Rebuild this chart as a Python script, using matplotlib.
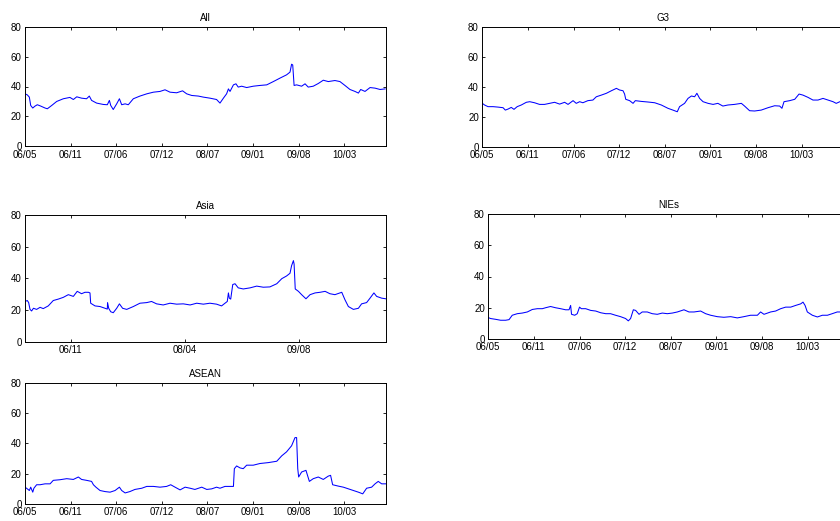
import matplotlib
matplotlib.use("Agg")
import matplotlib.pyplot as plt

plt.rcParams['font.family'] = ['Liberation Sans', 'DejaVu Sans']

# Day offsets from 2006-05-03 and index levels for each regional series
all_days = [0, 10, 19, 25, 34, 44, 54, 69, 88, 98, 117, 139, 168, 197, 212, 227, 248, 270, 282, 292,
            314, 343, 361, 370, 376, 387, 402, 414, 424, 439, 453, 475, 504, 534, 563, 592, 614, 636,
            665, 691, 709, 731, 760, 782, 811, 840, 855, 870, 884, 892, 899, 914, 925, 935, 950, 972,
            1001, 1030, 1060, 1089, 1118, 1147, 1162, 1169, 1174, 1180, 1191, 1213, 1228, 1242, 1264,
            1286, 1308, 1330, 1359, 1381, 1403, 1425, 1447, 1462, 1472, 1491, 1513, 1535, 1557, 1579]
all_vals = [35.1, 34.4, 32.9, 27.3, 25.6, 26.9, 27.8, 26.9, 25.6, 25.1, 27.3, 30.0, 31.8, 32.7, 31.3,
            33.1, 32.2, 31.8, 33.6, 30.7, 28.9, 28.0, 27.8, 30.7, 27.3, 24.6, 28.4, 31.8, 27.8, 28.4,
            27.8, 31.8, 33.6, 35.1, 36.2, 36.7, 37.8, 36.2, 35.8, 37.1, 35.1, 34.0, 33.6, 32.9, 32.2,
            31.3, 28.9, 32.2, 35.1, 38.4, 36.7, 41.1, 41.8, 39.6, 40.2, 39.3, 40.2, 40.7, 41.1, 43.3,
            45.6, 47.8, 49.6, 54.9, 54.4, 40.7, 41.1, 40.2, 41.8, 39.6, 40.2, 42.0, 44.2, 43.3, 44.0,
            43.3, 40.7, 38.0, 36.7, 35.6, 38.0, 36.7, 39.3, 38.9, 38.0, 38.4]

g3_days = [0, 10, 25, 47, 69, 91, 101, 113, 127, 139, 153, 171, 193, 208, 229, 251, 273, 295, 317,
           339, 361, 376, 398, 412, 427, 441, 463, 485, 500, 522, 544, 566, 588, 602, 617, 624, 629,
           646, 661, 671, 697, 726, 756, 785, 814, 836, 855, 865, 887, 902, 917, 931, 941, 953, 968,
           990, 1012, 1033, 1055, 1077, 1106, 1136, 1150, 1172, 1194, 1223, 1253, 1282, 1304, 1314,
           1323, 1348, 1370, 1389, 1406, 1428, 1450, 1472, 1494, 1516, 1538, 1552, 1568, 1580]
g3_vals = [28.9, 27.8, 26.7, 26.7, 26.4, 26.0, 24.4, 25.1, 26.2, 24.9, 26.7, 27.8, 29.6, 30.0, 29.3,
           28.2, 28.2, 28.9, 29.6, 28.4, 29.6, 28.2, 30.7, 28.9, 30.0, 29.3, 30.7, 31.1, 33.3, 34.4,
           35.6, 37.3, 38.9, 37.8, 37.3, 35.1, 31.6, 30.7, 28.9, 30.7, 30.2, 29.8, 29.3, 27.8, 25.6,
           24.4, 23.3, 26.7, 28.9, 32.2, 33.8, 33.3, 35.6, 32.2, 30.0, 28.9, 28.2, 28.9, 27.1, 27.8,
           28.2, 28.9, 27.1, 24.0, 23.8, 24.4, 26.0, 27.3, 27.1, 25.6, 30.0, 30.7, 31.6, 35.1, 34.4,
           32.9, 31.1, 31.1, 32.2, 31.1, 30.0, 28.9, 30.0, 30.0]

asia_days = [0, 10, 16, 22, 29, 37, 51, 66, 80, 102, 124, 146, 168, 190, 212, 229, 248, 263, 278,
             285, 288, 307, 329, 351, 361, 362, 367, 376, 387, 402, 414, 428, 446, 475, 504, 534, 555,
             577, 606, 636, 665, 694, 724, 753, 782, 811, 840, 862, 877, 887, 892, 896, 902, 911, 921,
             935, 957, 987, 1016, 1045, 1074, 1104, 1126, 1147, 1162, 1169, 1177, 1180, 1185, 1199,
             1213, 1232, 1250, 1272, 1294, 1316, 1337, 1359, 1389, 1403, 1418, 1440, 1462, 1476,
             1498, 1513, 1530, 1542, 1564, 1582]
asia_vals = [25.4, 26.0, 24.7, 20.4, 19.4, 21.1, 20.4, 21.7, 20.9, 22.6, 26.0, 26.9, 28.0, 29.7,
             28.6, 31.8, 30.3, 31.2, 31.2, 30.8, 24.3, 22.6, 22.2, 21.1, 20.6, 24.7, 21.1, 18.9, 18.3,
             21.1, 23.9, 21.1, 20.4, 22.2, 24.3, 24.7, 25.4, 23.9, 23.2, 24.3, 23.7, 23.9, 23.2, 24.3,
             23.7, 24.3, 23.7, 22.6, 24.3, 25.4, 30.8, 27.5, 26.9, 36.1, 36.6, 34.0, 33.3, 34.0, 35.1,
             34.4, 34.6, 36.6, 39.8, 41.5, 43.2, 48.0, 51.2, 49.0, 33.3, 31.8, 29.7, 27.1, 29.7, 30.8,
             31.2, 31.8, 30.3, 29.7, 31.2, 26.5, 22.2, 20.4, 21.1, 23.9, 24.7, 27.5, 30.8, 28.6, 27.5,
             27.1]

nies_days = [0, 10, 32, 54, 76, 91, 105, 127, 149, 171, 193, 215, 237, 251, 273, 295, 317, 339, 354,
             361, 365, 379, 390, 400, 408, 427, 449, 471, 493, 515, 536, 558, 580, 602, 614, 624, 636,
             646, 661, 675, 697, 719, 741, 763, 785, 807, 829, 858, 880, 902, 931, 953, 975, 1004,
             1033, 1063, 1092, 1121, 1150, 1180, 1194, 1209, 1238, 1260, 1282, 1304, 1326, 1348, 1370,
             1380, 1389, 1399, 1421, 1443, 1465, 1487, 1508, 1530, 1542, 1580]
nies_vals = [13.7, 13.1, 12.6, 12.0, 12.0, 12.4, 15.2, 16.2, 16.6, 17.3, 18.9, 19.4, 19.4, 20.0, 20.8,
             20.0, 19.4, 18.7, 18.7, 21.5, 15.8, 15.2, 16.2, 20.4, 19.4, 19.4, 18.3, 17.9, 16.8, 16.2,
             16.2, 15.2, 14.3, 13.1, 11.6, 13.1, 18.7, 18.3, 15.8, 17.3, 17.3, 16.2, 15.8, 16.6, 16.2,
             16.6, 17.3, 18.7, 17.3, 17.3, 17.9, 16.2, 15.2, 14.3, 13.9, 14.3, 13.5, 14.3, 15.2, 15.2,
             17.3, 15.8, 17.3, 17.9, 19.4, 20.4, 20.4, 21.5, 22.5, 23.6, 21.5, 17.3, 15.2, 14.1, 15.2,
             15.2, 16.2, 17.3, 17.3, 17.5]

asean_days = [0, 10, 19, 25, 34, 39, 51, 66, 88, 110, 124, 153, 183, 212, 234, 248, 270, 292, 300,
              311, 329, 351, 373, 395, 414, 424, 439, 460, 482, 512, 534, 563, 592, 621, 639, 658, 680,
              702, 724, 745, 775, 797, 819, 840, 855, 877, 914, 918, 928, 943, 957, 972, 1001, 1030,
              1067, 1104, 1126, 1147, 1169, 1184, 1191, 1196, 1200, 1213, 1232, 1247, 1264, 1286, 1308,
              1330, 1340, 1349, 1374, 1396, 1418, 1440, 1462, 1481, 1498, 1520, 1535, 1549, 1564, 1582]
asean_vals = [11.1, 10.0, 8.9, 11.1, 7.8, 10.4, 12.7, 12.7, 13.3, 13.3, 15.6, 16.0, 16.7, 16.2, 17.8,
              16.2, 15.6, 14.9, 12.7, 11.1, 8.9, 8.2, 7.8, 8.9, 11.1, 8.9, 7.3, 8.2, 9.6, 10.4, 11.6,
              11.6, 11.1, 11.6, 12.7, 11.1, 9.3, 11.1, 10.4, 9.6, 11.1, 9.6, 10.0, 11.1, 10.4, 11.6,
              11.6, 23.3, 25.1, 23.8, 23.3, 25.6, 25.6, 26.7, 27.3, 28.2, 31.8, 34.4, 38.4, 43.8, 43.8,
              23.3, 17.8, 21.1, 22.2, 14.9, 16.7, 17.8, 16.2, 18.4, 18.9, 12.7, 11.8, 11.1, 10.0, 8.9,
              7.8, 6.7, 10.4, 11.1, 13.3, 14.9, 13.3, 13.3]

# Tick positions (day offsets) and their yy/mm labels
main_ticks = [0, 200, 400, 600, 800, 1000, 1200, 1400]
main_labels = ['06/05', '06/11', '07/06', '07/12', '08/07', '09/01', '09/08', '10/03']
asia_ticks = [200, 700, 1200]
asia_labels = ['06/11', '08/04', '09/08']
y_ticks = [0, 20, 40, 60, 80]

W, H = 840, 521
fig = plt.figure(figsize=(W / 100, H / 100), dpi=100)


def panel(x0, top, bottom, title, days, vals, ticks, labels):
    ax = fig.add_axes([x0 / W, (H - bottom) / H, 361 / W, (bottom - top) / H])
    ax.plot(days, vals, color=(0, 0, 1), lw=0.75)
    ax.set_xlim(0, 1583)
    ax.set_ylim(0, 80)
    ax.set_xticks(ticks)
    ax.set_xticklabels(labels)
    ax.set_yticks(y_ticks)
    ax.tick_params(direction='in', length=2.5, width=0.6, labelsize=7, pad=2.5,
                   top=True, right=True, colors='k')
    for s in ax.spines.values():
        s.set_linewidth(0.7)
        s.set_color('k')
    ax.set_title(title, fontsize=7, pad=4)
    return ax


panel(25, 26.7, 146.3, 'All', all_days, all_vals, main_ticks, main_labels)
panel(482.3, 26.7, 146.7, 'G3', g3_days, g3_vals, main_ticks, main_labels)
panel(25, 215, 341.7, 'Asia', asia_days, asia_vals, asia_ticks, asia_labels)
panel(488.3, 214, 339, 'NIEs', nies_days, nies_vals, main_ticks, main_labels)
panel(25, 382.7, 504, 'ASEAN', asean_days, asean_vals, main_ticks, main_labels)

fig.savefig('out.png', dpi=100)
